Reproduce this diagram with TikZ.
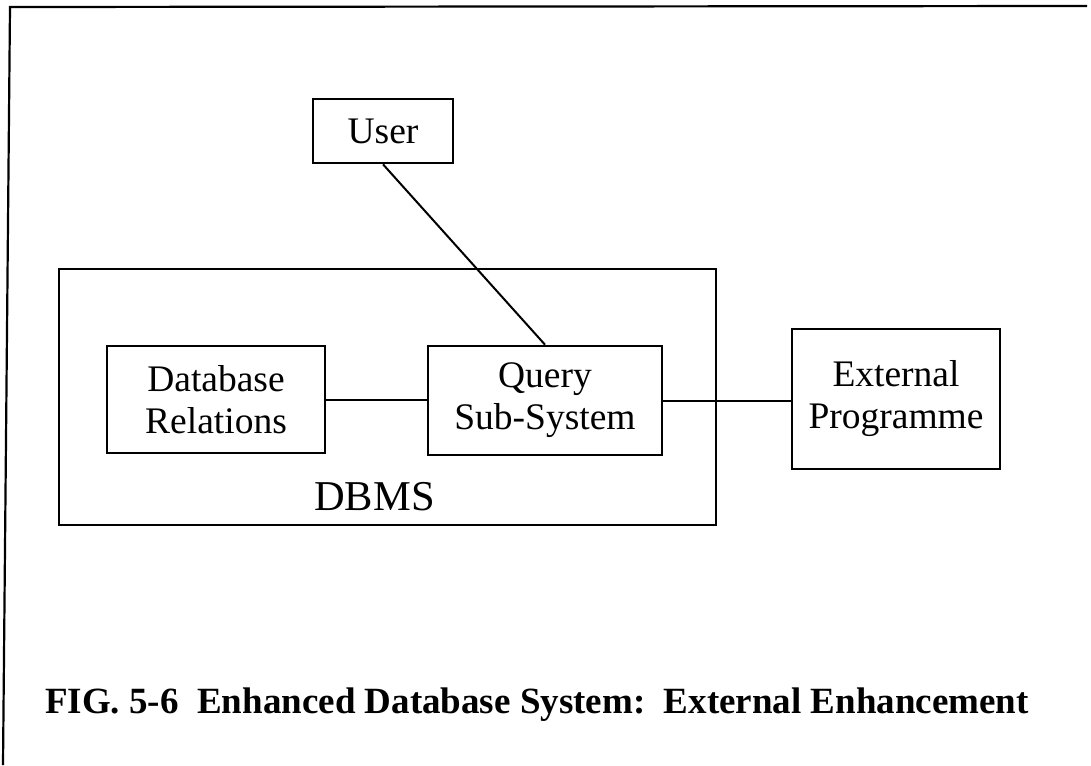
\documentclass[tikz,border=0pt]{standalone}
\usepackage{fontspec}
\setmainfont{Liberation Serif}
\usetikzlibrary{calc}

\tikzset{
  block/.style={draw, rectangle, line width=2.6pt, inner sep=0pt, align=center,
    font=\fontsize{37.5}{42}\selectfont},
  link/.style={line width=2pt},
}

\begin{document}
\begin{tikzpicture}[x=1pt,y=-1pt]
		%%%%% FRAME %%%%%
		\useasboundingbox (0,0) rectangle (1091,765);
		\draw[line width=2.2pt] (3,765) -- (10,7) -- (1087,6);
		
		%%%%% DBMS %%%%%
		\node[draw, rectangle, line width=2.2pt, minimum width=657pt, minimum height=256pt] (dbms) at (387.5,397) {};
		\node[anchor=base, font=\fontsize{42.5}{48}\selectfont] (dbmslabel) at (374.5,510) {DBMS};
		
		\node[block, minimum width=218pt, minimum height=107pt] (relations) at (216,399.5) {Database\\Relations};
		\node[block, minimum width=234pt, minimum height=109pt] (query) at (545,400.5) {Query\\Sub-System};
		
		%%%%% OUTSIDE %%%%%
		\node[block, minimum width=140pt, minimum height=64pt] (user) at (383,131) {User};
		\node[block, minimum width=208pt, minimum height=140pt] (external) at (896,399) {External\\Programme};
		
		\draw[link] (relations.east) -- (relations.east -| query.west);
		\draw[link] (query.east) -- (query.east -| external.west);
		\draw[link] (user.south) -- (query.north);
		
		%%%%% CAPTION %%%%%
		\node[anchor=base west, inner sep=0pt, font=\fontsize{37}{44}\selectfont\bfseries] (caption) at (45,713)
		  {FIG. 5-6\ \ Enhanced Database System:\ \ External Enhancement};
\end{tikzpicture}
\end{document}
